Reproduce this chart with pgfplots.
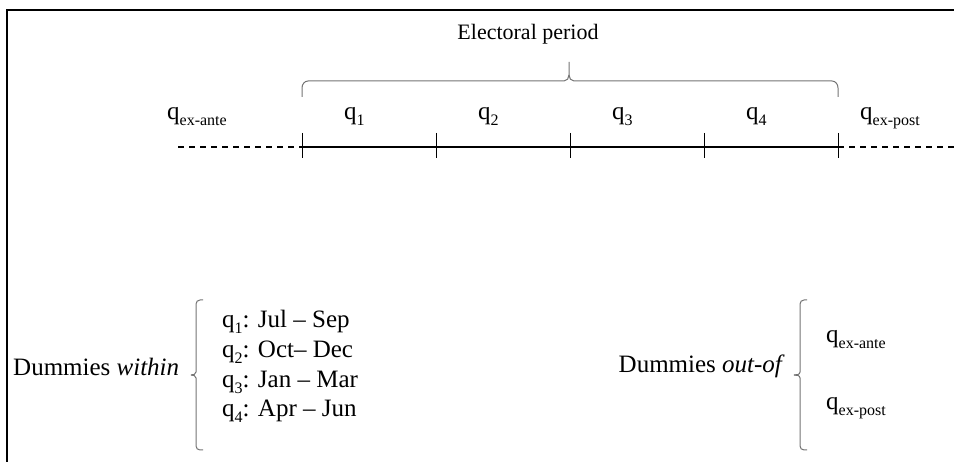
\documentclass[border=0pt]{standalone}
\usepackage{pgfplots}
\pgfplotsset{compat=1.18}
\usepackage{fontspec}
\setmainfont{Liberation Serif}
\newcommand\sub[1]{\raisebox{-0.22em}{\fontsize{16}{16}\selectfont #1}}
\newcommand\bigtxt{\fontsize{25}{30}\selectfont}
\begin{document}
\begin{tikzpicture}
\begin{axis}[width=954pt,height=462pt,scale only axis,
  xmin=0,xmax=954,ymin=0,ymax=462,y dir=reverse,
  hide axis,clip=false]
% frame
\addplot[black,line width=2.5pt] coordinates {(7,462) (7,10) (954,10)};
% timeline
\addplot[black,line width=1.8pt] coordinates {(302,147) (838,147)};
\addplot[black,line width=1.4pt,dash pattern=on 6pt off 5pt] coordinates {(178,147) (302,147)};
\addplot[black,line width=1.4pt,dash pattern=on 6pt off 5pt] coordinates {(838,147) (954,147)};
% ticks
\addplot[black,line width=1pt] coordinates {(302,133) (302,158)};
\addplot[black,line width=1pt] coordinates {(436,133) (436,158)};
\addplot[black,line width=1pt] coordinates {(570,133) (570,158)};
\addplot[black,line width=1pt] coordinates {(704,133) (704,158)};
\addplot[black,line width=1pt] coordinates {(838,133) (838,158)};
% top brace
\draw[black!55,line width=1pt] (axis cs:302,97) -- (axis cs:302,88) to[out=90,in=180] (axis cs:308,81) -- (axis cs:564,81) to[out=0,in=-90] (axis cs:569,75) -- (axis cs:569,62);
\draw[black!55,line width=1pt] (axis cs:569,75) to[out=-90,in=180] (axis cs:574,81) -- (axis cs:832,81) to[out=0,in=90] (axis cs:838,88) -- (axis cs:838,97);
% bottom brackets
\draw[black!55,line width=1pt] (axis cs:203,300) -- (axis cs:200,300) to[out=180,in=90] (axis cs:196,304) -- (axis cs:196,372) to[out=-90,in=0] (axis cs:191,375);
\draw[black!55,line width=1pt] (axis cs:191,375) to[out=0,in=90] (axis cs:196,378) -- (axis cs:196,446) to[out=-90,in=180] (axis cs:200,450) -- (axis cs:203,450);
\draw[black!55,line width=1pt] (axis cs:807,300) -- (axis cs:804,300) to[out=180,in=90] (axis cs:800,304) -- (axis cs:800,372) to[out=-90,in=0] (axis cs:794,375);
\draw[black!55,line width=1pt] (axis cs:794,375) to[out=0,in=90] (axis cs:800,378) -- (axis cs:800,446) to[out=-90,in=180] (axis cs:804,450) -- (axis cs:807,450);
% text
\node[anchor=base,font=\fontsize{22}{26}\selectfont,inner sep=0pt] at (axis cs:528,40) {Electoral period};
\node[anchor=base west,inner sep=0pt] at (axis cs:167,120) {\bigtxt q\sub{ex-ante}};
\node[anchor=base west,inner sep=0pt] at (axis cs:344,120) {\bigtxt q\sub{1}};
\node[anchor=base west,inner sep=0pt] at (axis cs:478,120) {\bigtxt q\sub{2}};
\node[anchor=base west,inner sep=0pt] at (axis cs:612,120) {\bigtxt q\sub{3}};
\node[anchor=base west,inner sep=0pt] at (axis cs:746,120) {\bigtxt q\sub{4}};
\node[anchor=base west,inner sep=0pt] at (axis cs:860,120) {\bigtxt q\sub{ex-post}};
\node[anchor=base west,inner sep=0pt] at (axis cs:13,376) {\bigtxt Dummies \textit{within}};
\node[anchor=base west,inner sep=0pt] at (axis cs:222,328) {\bigtxt q\sub{1}: Jul -- Sep};
\node[anchor=base west,inner sep=0pt] at (axis cs:222,358) {\bigtxt q\sub{2}: Oct-- Dec};
\node[anchor=base west,inner sep=0pt] at (axis cs:222,388) {\bigtxt q\sub{3}: Jan -- Mar};
\node[anchor=base west,inner sep=0pt] at (axis cs:222,417) {\bigtxt q\sub{4}: Apr -- Jun};
\node[anchor=base east,inner sep=0pt] at (axis cs:785,373) {\bigtxt Dummies \textit{out-of}};
\node[anchor=base west,inner sep=0pt] at (axis cs:826,343) {\bigtxt q\sub{ex-ante}};
\node[anchor=base west,inner sep=0pt] at (axis cs:826,410) {\bigtxt q\sub{ex-post}};
\end{axis}
\pgfresetboundingbox
\path[use as bounding box] (0,0) rectangle (954pt,462pt);
\end{tikzpicture}
\end{document}
